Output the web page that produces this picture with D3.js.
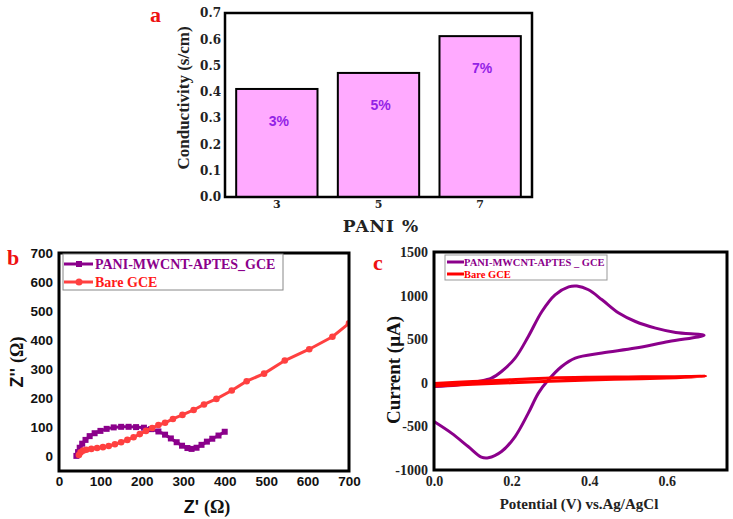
<!DOCTYPE html>
<html><head><meta charset="utf-8">
<script src="https://cdn.jsdelivr.net/npm/d3@7"></script>
<style>html,body{margin:0;padding:0;background:#fff;}svg{display:block;}</style>
</head><body>
<svg id="chart" width="733" height="519"></svg>
<script>
// ---------- Panel a data ----------
const paniCategories = ["3", "5", "7"];
const conductivity = [0.411, 0.472, 0.612];
const barLabels = ["3%", "5%", "7%"];
const yTicksA = [0, 0.1, 0.2, 0.3, 0.4, 0.5, 0.6, 0.7];

// ---------- Panel b data (Nyquist) ----------
const nyquistPani = [[42,2],[46,15],[50,30],[56,44],[64,57],[74,70],[86,80],[100,88],[115,95],[132,100],[150,102],[168,102],[186,101],[205,99],[222,94],[240,86],[256,75],[270,62],[284,49],[297,37],[310,29],[320,26],[332,30],[344,40],[357,51],[370,61],[385,72],[400,85]];
const nyquistBare = [[48,5],[52,14],[58,20],[66,23],[78,26],[92,29],[106,32],[120,36],[135,42],[150,49],[165,57],[180,66],[195,77],[210,88],[225,98],[240,108],[256,116],[275,129],[298,143],[325,160],[350,179],[380,198],[417,227],[453,259],[495,285],[545,330],[604,369],[660,412],[700,458]];
const xTicksB = [0,100,200,300,400,500,600,700];
const yTicksB = [0,100,200,300,400,500,600,700];

// ---------- Panel c data (CV) ----------
const cvPani = [[0,-42],[0.06,-25],[0.114,15],[0.148,54],[0.174,130],[0.209,283],[0.243,531],[0.278,818],[0.312,1009],[0.347,1100],[0.368,1110],[0.398,1067],[0.433,952],[0.476,800],[0.519,703],[0.571,627],[0.623,577],[0.696,545],[0.605,474],[0.519,398],[0.433,341],[0.364,283],[0.329,187],[0.295,34],[0.269,-118],[0.243,-348],[0.209,-616],[0.174,-788],[0.140,-860],[0.122,-852],[0.088,-731],[0.045,-577],[0,-444]];
const cvBare = [[0,-8],[0.1,14],[0.2,36],[0.3,56],[0.4,64],[0.5,67],[0.6,70],[0.7,76],[0.6,56],[0.5,44],[0.4,32],[0.3,18],[0.2,0],[0.1,-18],[0,-36]];
const xTicksC = [0, 0.2, 0.4, 0.6];
const yTicksC = [-1000,-500,0,500,1000,1500];

const SERIF = "'Liberation Serif', 'Times New Roman', serif";
const SANS = "'Liberation Sans', Arial, sans-serif";
const DSERIF = "'DejaVu Serif', serif";
const PURPLE = "#8b008b";
const RED_B = "#ff4040";
const RED_C = "#ff0000";

const svg = d3.select("#chart");
const defs = svg.append("defs");

// ================= Panel a =================
const xA = d3.scaleBand().domain(paniCategories).range([225, 532]).paddingInner(0.2).paddingOuter(0.11);
const yA = d3.scaleLinear().domain([0, 0.7]).range([197, 13]);
const gA = svg.append("g");
gA.selectAll("rect.bar").data(conductivity).join("rect")
  .attr("x", (d,i) => xA(paniCategories[i]))
  .attr("y", d => yA(d))
  .attr("width", xA.bandwidth())
  .attr("height", d => yA(0) - yA(d))
  .attr("fill", "#ffaaff").attr("stroke", "#000").attr("stroke-width", 2);
gA.selectAll("text.pl").data(conductivity).join("text")
  .attr("x", (d,i) => xA(paniCategories[i]) + xA.bandwidth()/2 + 2)
  .attr("y", d => yA(d) + 37)
  .attr("text-anchor", "middle")
  .attr("font-family", SANS).attr("font-weight", "bold").attr("font-size", 14)
  .attr("fill", "#9322e6")
  .text((d,i) => barLabels[i]);
gA.append("rect").attr("x", 225).attr("y", 13).attr("width", 307).attr("height", 184)
  .attr("fill", "none").attr("stroke", "#000").attr("stroke-width", 2.5);
const axYA = gA.append("g").attr("transform", "translate(225,0)")
  .call(d3.axisLeft(yA).tickValues(yTicksA).tickFormat(d3.format(".1f")).tickSize(0).tickPadding(4));
axYA.select(".domain").remove();
axYA.selectAll("text").attr("font-family", DSERIF).attr("font-weight", "bold").attr("font-size", 12).attr("fill", "#222");
const axXA = gA.append("g").attr("transform", "translate(0,197)")
  .call(d3.axisBottom(xA).tickSize(0).tickPadding(3));
axXA.select(".domain").remove();
axXA.selectAll("text").attr("font-family", DSERIF).attr("font-weight", "bold").attr("font-size", 11).attr("fill", "#222");
gA.append("text").attr("x", 381).attr("y", 232).attr("text-anchor", "middle")
  .attr("font-family", DSERIF).attr("font-weight", "bold").attr("font-size", 17).attr("letter-spacing", 1).attr("fill", "#222")
  .text("PANI %");
gA.append("text").attr("transform", "translate(189,98) rotate(-90)").attr("text-anchor", "middle")
  .attr("font-family", SERIF).attr("font-weight", "bold").attr("font-size", 17).attr("fill", "#222")
  .text("Conductivity (s/cm)");
gA.append("text").attr("x", 150).attr("y", 22)
  .attr("font-family", SERIF).attr("font-weight", "bold").attr("font-size", 22).attr("fill", "#ee1111")
  .text("a");

// ================= Panel b =================
const xB = d3.scaleLinear().domain([0, 700]).range([59, 349]);
const yB = d3.scaleLinear().domain([-50, 700]).range([471, 253]);
const gB = svg.append("g");
defs.append("clipPath").attr("id", "clipB").append("rect").attr("x", 59).attr("y", 253).attr("width", 290).attr("height", 218);
const plotB = gB.append("g").attr("clip-path", "url(#clipB)");
const lineB = d3.line().x(d => xB(d[0])).y(d => yB(d[1]));
plotB.append("path").datum(nyquistPani).attr("d", lineB).attr("fill", "none").attr("stroke", PURPLE).attr("stroke-width", 3);
plotB.selectAll("rect.sq").data(nyquistPani).join("rect")
  .attr("x", d => xB(d[0]) - 3).attr("y", d => yB(d[1]) - 3).attr("width", 6).attr("height", 6).attr("fill", PURPLE);
plotB.append("path").datum(nyquistBare).attr("d", lineB).attr("fill", "none").attr("stroke", RED_B).attr("stroke-width", 3);
plotB.selectAll("circle.ci").data(nyquistBare).join("circle")
  .attr("cx", d => xB(d[0])).attr("cy", d => yB(d[1])).attr("r", 3.3).attr("fill", RED_B);
gB.append("rect").attr("x", 59).attr("y", 253).attr("width", 290).attr("height", 218)
  .attr("fill", "none").attr("stroke", "#000").attr("stroke-width", 3);
const axYB = gB.append("g").attr("transform", "translate(59,0)")
  .call(d3.axisLeft(yB).tickValues(yTicksB).tickSize(0).tickPadding(6));
axYB.select(".domain").remove();
axYB.selectAll("text").attr("font-family", SANS).attr("font-weight", "bold").attr("font-size", 13.5).attr("fill", "#111");
const axXB = gB.append("g").attr("transform", "translate(0,471)")
  .call(d3.axisBottom(xB).tickValues(xTicksB).tickSize(0).tickPadding(5));
axXB.select(".domain").remove();
axXB.selectAll("text").attr("font-family", SANS).attr("font-weight", "bold").attr("font-size", 13.5).attr("fill", "#111");
// legend b
const lgB = gB.append("g");
lgB.append("rect").attr("x", 63).attr("y", 254).attr("width", 220).attr("height", 36)
  .attr("fill", "#fff").attr("stroke", "#888").attr("stroke-width", 1);
lgB.append("line").attr("x1", 64).attr("x2", 93).attr("y1", 264).attr("y2", 264).attr("stroke", PURPLE).attr("stroke-width", 3);
lgB.append("rect").attr("x", 76).attr("y", 261).attr("width", 6).attr("height", 6).attr("fill", PURPLE);
lgB.append("text").attr("x", 95).attr("y", 269).attr("font-family", SERIF).attr("font-weight", "bold").attr("font-size", 14).attr("fill", PURPLE).text("PANI-MWCNT-APTES_GCE");
lgB.append("line").attr("x1", 64).attr("x2", 93).attr("y1", 282).attr("y2", 282).attr("stroke", RED_B).attr("stroke-width", 3);
lgB.append("circle").attr("cx", 79).attr("cy", 282).attr("r", 3.5).attr("fill", RED_B);
lgB.append("text").attr("x", 95).attr("y", 287).attr("font-family", SERIF).attr("font-weight", "bold").attr("font-size", 14).attr("fill", "#ff1a1a").text("Bare GCE");
// titles b
const tyB = gB.append("text").attr("transform", "translate(23,362) rotate(-90)").attr("text-anchor", "middle")
  .attr("font-weight", "bold").attr("font-size", 18).attr("fill", "#111");
tyB.append("tspan").attr("font-family", SANS).text("Z'' ");
tyB.append("tspan").attr("font-family", SERIF).text("(Ω)");
const txB = gB.append("text").attr("x", 207).attr("y", 513).attr("text-anchor", "middle")
  .attr("font-weight", "bold").attr("font-size", 18).attr("fill", "#111");
txB.append("tspan").attr("font-family", SANS).text("Z' ");
txB.append("tspan").attr("font-family", SERIF).text("(Ω)");
gB.append("text").attr("x", 7).attr("y", 265)
  .attr("font-family", SERIF).attr("font-weight", "bold").attr("font-size", 22).attr("fill", "#ee1111").text("b");

// ================= Panel c =================
const xC = d3.scaleLinear().domain([0, 0.755]).range([434, 727]);
const yC = d3.scaleLinear().domain([-1000, 1500]).range([470, 252]);
const gC = svg.append("g");
defs.append("clipPath").attr("id", "clipC").append("rect").attr("x", 434).attr("y", 252).attr("width", 293).attr("height", 218);
const plotC = gC.append("g").attr("clip-path", "url(#clipC)");
const lineC = d3.line().x(d => xC(d[0])).y(d => yC(d[1])).curve(d3.curveCatmullRom.alpha(0.5));
plotC.append("path").datum(cvPani).attr("d", lineC).attr("fill", "none").attr("stroke", PURPLE).attr("stroke-width", 3);
plotC.append("path").datum(cvBare).attr("d", lineC).attr("fill", "none").attr("stroke", RED_C).attr("stroke-width", 3);
gC.append("rect").attr("x", 434).attr("y", 252).attr("width", 293).attr("height", 218)
  .attr("fill", "none").attr("stroke", "#000").attr("stroke-width", 3);
const axYC = gC.append("g").attr("transform", "translate(434,0)")
  .call(d3.axisLeft(yC).tickValues(yTicksC).tickFormat(d => String(d)).tickSize(0).tickPadding(6));
axYC.select(".domain").remove();
axYC.selectAll("text").attr("font-family", SERIF).attr("font-weight", "bold").attr("font-size", 14).attr("fill", "#222");
const axXC = gC.append("g").attr("transform", "translate(0,470)")
  .call(d3.axisBottom(xC).tickValues(xTicksC).tickFormat(d3.format(".1f")).tickSize(0).tickPadding(6));
axXC.select(".domain").remove();
axXC.selectAll("text").attr("font-family", SERIF).attr("font-weight", "bold").attr("font-size", 14).attr("fill", "#222");
// legend c
const lgC = gC.append("g");
lgC.append("rect").attr("x", 445).attr("y", 255).attr("width", 162).attr("height", 25)
  .attr("fill", "#fff").attr("stroke", "#999").attr("stroke-width", 1);
lgC.append("line").attr("x1", 447).attr("x2", 464).attr("y1", 262).attr("y2", 262).attr("stroke", PURPLE).attr("stroke-width", 3);
lgC.append("text").attr("x", 464).attr("y", 266).attr("font-family", SERIF).attr("font-weight", "bold").attr("font-size", 10.5).attr("fill", PURPLE).text("PANI-MWCNT-APTES _ GCE");
lgC.append("line").attr("x1", 447).attr("x2", 464).attr("y1", 274).attr("y2", 274).attr("stroke", RED_C).attr("stroke-width", 3);
lgC.append("text").attr("x", 464).attr("y", 278).attr("font-family", SERIF).attr("font-weight", "bold").attr("font-size", 10.5).attr("fill", RED_C).text("Bare GCE");
// titles c
gC.append("text").attr("transform", "translate(400,370) rotate(-90)").attr("text-anchor", "middle")
  .attr("font-family", SERIF).attr("font-weight", "bold").attr("font-size", 19).attr("fill", "#111")
  .text("Current (μA)");
gC.append("text").attr("x", 579).attr("y", 509).attr("text-anchor", "middle")
  .attr("font-family", SERIF).attr("font-weight", "bold").attr("font-size", 15).attr("fill", "#222")
  .text("Potential (V) vs.Ag/AgCl");
gC.append("text").attr("x", 373).attr("y", 270)
  .attr("font-family", SERIF).attr("font-weight", "bold").attr("font-size", 22).attr("fill", "#ee1111").text("c");
</script>
</body></html>
